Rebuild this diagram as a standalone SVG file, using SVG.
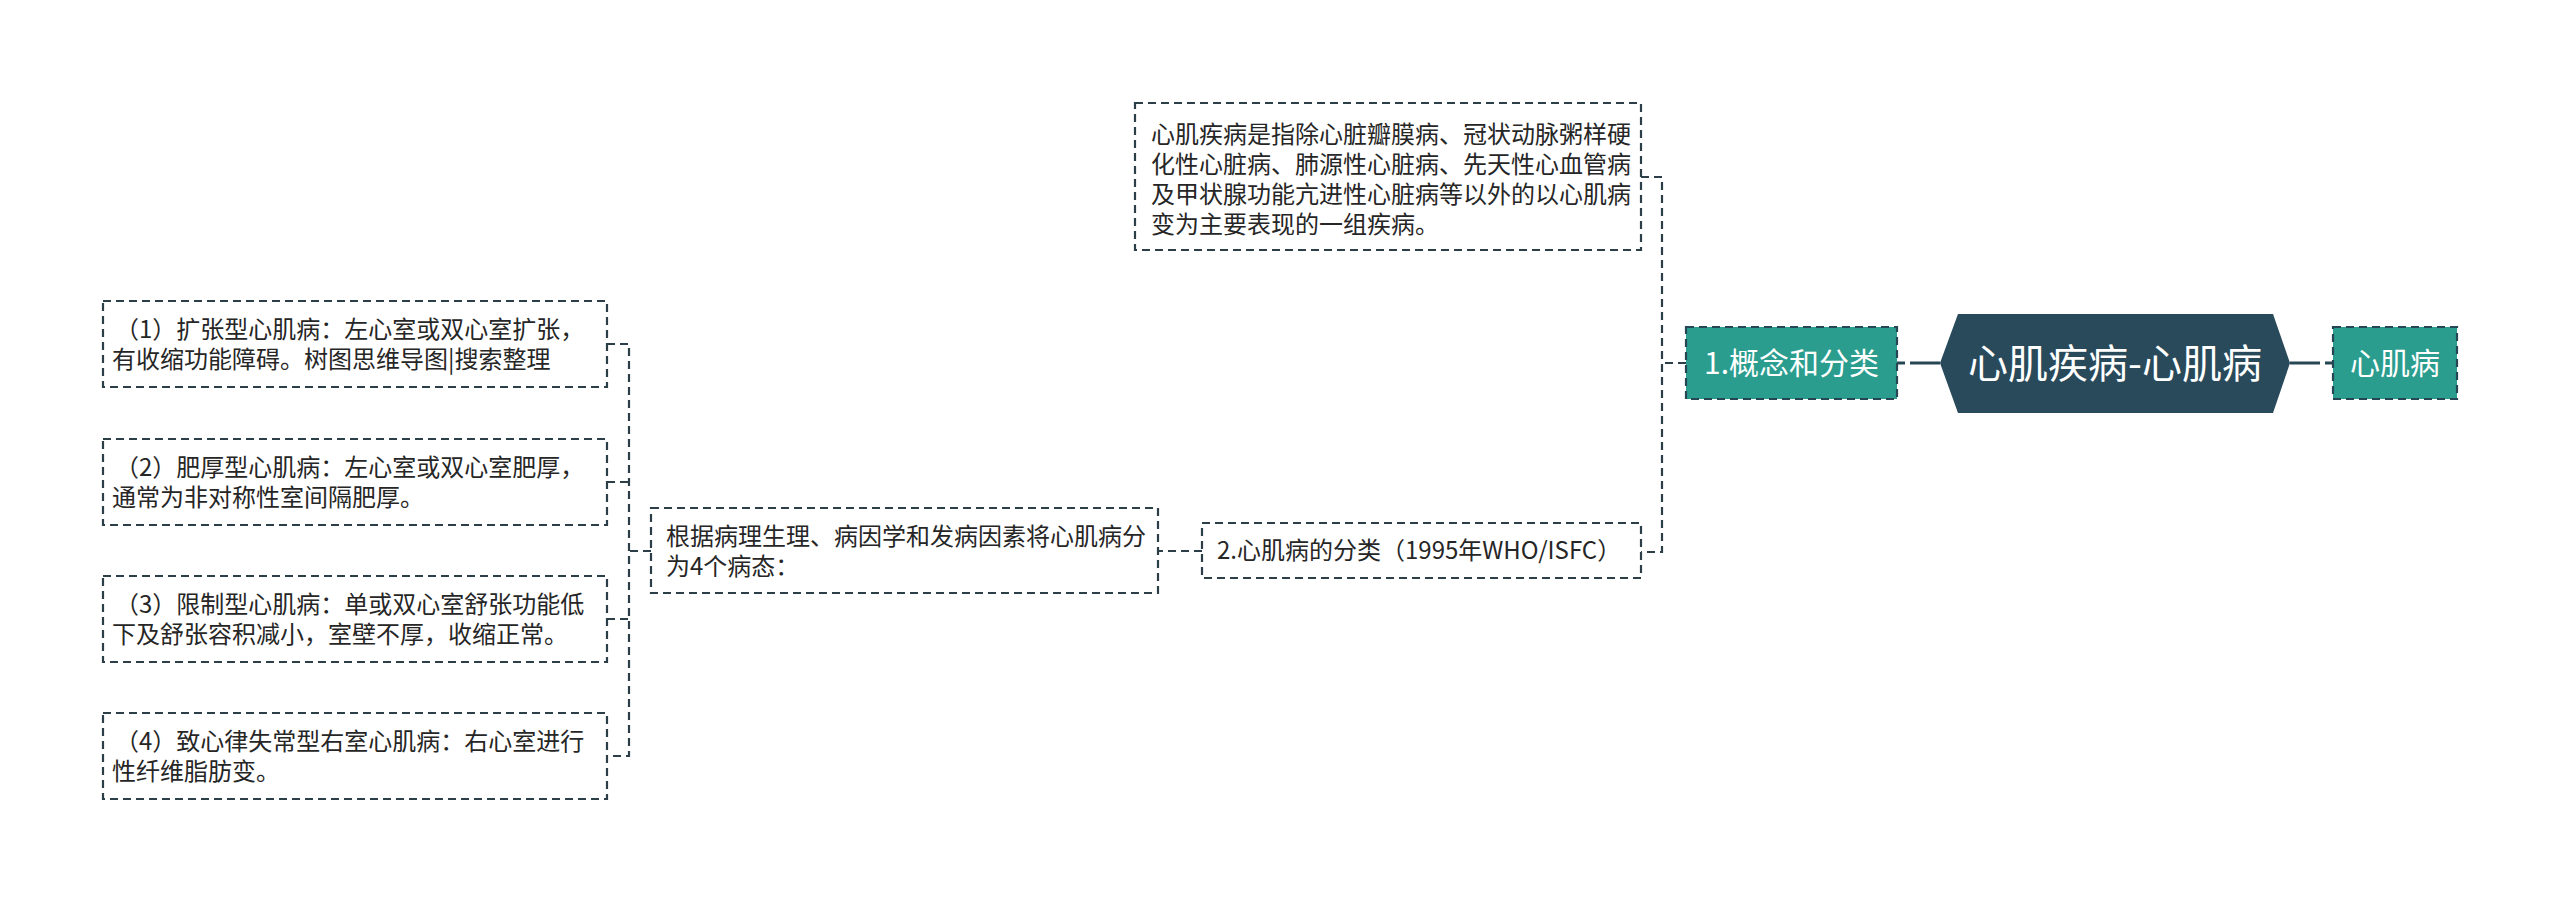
<svg xmlns="http://www.w3.org/2000/svg" width="2560" height="903" viewBox="0 0 2560 903">
<style>
.box{fill:#ffffff;stroke:#2c3e48;stroke-width:2.2;stroke-dasharray:8 5}
.tnode{fill:#2a9d8f;stroke:#264653;stroke-width:2.2;stroke-dasharray:8 5}
.conn{fill:none;stroke:#2c3e48;stroke-width:2.2;stroke-dasharray:8 5}
.main{fill:none;stroke:#264653;stroke-width:3;stroke-dasharray:8 5 40}
.t{font-family:"Noto Sans CJK SC","Microsoft YaHei","Noto Sans",sans-serif;font-size:24px;fill:#262626}
.w{font-family:"Noto Sans CJK SC","Microsoft YaHei","Noto Sans",sans-serif;fill:#ffffff;text-anchor:middle}
</style>
<rect width="2560" height="903" fill="#ffffff"/>
<g id="connectors">
<line class="main" x1="1897" y1="363" x2="1940" y2="363"/>
<line class="main" x1="2333" y1="363" x2="2290" y2="363"/>
<path class="conn" d="M1686,363 H1662"/>
<path class="conn" d="M1641,177 H1662 V552 H1641"/>
<path class="conn" d="M1202,551 H1158"/>
<path class="conn" d="M651,551 H629"/>
<path class="conn" d="M607,344 H629 V756 H607"/>
<path class="conn" d="M607,482 H629"/>
<path class="conn" d="M607,619 H629"/>
</g>
<g id="root">
<polygon points="1940,363 1958,314 2273,314 2290,363 2273,413 1958,413" fill="#284a5b"/>
<text class="w" x="2115" y="378" font-size="40">心肌疾病-心肌病</text>
</g>
<g id="node-right">
<rect class="tnode" x="2333" y="327" width="124" height="72"/>
<text class="w" x="2395" y="374" font-size="30">心肌病</text>
</g>
<g id="node-1">
<rect class="tnode" x="1686" y="327" width="211" height="72"/>
<text class="w" x="1791.5" y="374" font-size="30">1.概念和分类</text>
</g>
<g id="node-def">
<rect class="box" x="1135" y="103" width="506" height="147"/>
<text class="t" x="1151" y="143">心肌疾病是指除心脏瓣膜病、冠状动脉粥样硬</text>
<text class="t" x="1151" y="173">化性心脏病、肺源性心脏病、先天性心血管病</text>
<text class="t" x="1151" y="203">及甲状腺功能亢进性心脏病等以外的以心肌病</text>
<text class="t" x="1151" y="233">变为主要表现的一组疾病。</text>
</g>
<g id="node-2">
<rect class="box" x="1202" y="523" width="439" height="55"/>
<text class="t" x="1217" y="559">2.心肌病的分类（1995年WHO/ISFC）</text>
</g>
<g id="node-types">
<rect class="box" x="651" y="508" width="507" height="85"/>
<text class="t" x="666" y="545">根据病理生理、病因学和发病因素将心肌病分</text>
<text class="t" x="666" y="575">为4个病态：</text>
</g>
<g id="leaf-1">
<rect class="box" x="103" y="301" width="504" height="86"/>
<text class="t" x="115" y="338">（1）扩张型心肌病：左心室或双心室扩张，</text>
<text class="t" x="112" y="368">有收缩功能障碍。树图思维导图|搜索整理</text>
</g>
<g id="leaf-2">
<rect class="box" x="103" y="439" width="504" height="86"/>
<text class="t" x="115" y="476">（2）肥厚型心肌病：左心室或双心室肥厚，</text>
<text class="t" x="112" y="506">通常为非对称性室间隔肥厚。</text>
</g>
<g id="leaf-3">
<rect class="box" x="103" y="576" width="504" height="86"/>
<text class="t" x="115" y="613">（3）限制型心肌病：单或双心室舒张功能低</text>
<text class="t" x="112" y="643">下及舒张容积减小，室壁不厚，收缩正常。</text>
</g>
<g id="leaf-4">
<rect class="box" x="103" y="713" width="504" height="86"/>
<text class="t" x="115" y="750">（4）致心律失常型右室心肌病：右心室进行</text>
<text class="t" x="112" y="780">性纤维脂肪变。</text>
</g>
</svg>
